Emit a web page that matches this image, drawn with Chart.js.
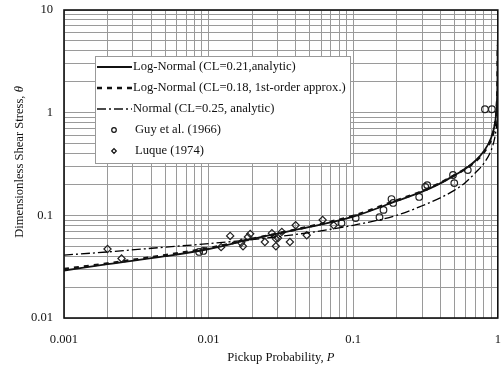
<!DOCTYPE html>
<html>
<head>
<meta charset="utf-8">
<script src="https://cdn.jsdelivr.net/npm/chart.js@4.4.0/dist/chart.umd.min.js"></script>
<style>
  html, body { margin: 0; padding: 0; background: #fff; }
</style>
</head>
<body>
<canvas id="pickupChart" width="503" height="371"></canvas>
<script>
// Courbes : contrainte adimensionnelle en fonction de la probabilite d'arrachement
const pCurve = [0.001, 0.002, 0.005, 0.01, 0.02, 0.05, 0.1, 0.2, 0.3, 0.4, 0.5, 0.6, 0.7, 0.8, 0.9, 0.95, 0.97, 0.98, 0.99, 0.995, 0.999];
const thetaLogNormal = [0.029, 0.0335, 0.040, 0.047, 0.059, 0.077, 0.097, 0.138, 0.17, 0.205, 0.245, 0.285, 0.34, 0.42, 0.57, 0.75, 0.92, 1.1, 1.5, 2.2, 5.0];
const thetaLogNormal1st = [0.030, 0.034, 0.041, 0.048, 0.059, 0.078, 0.099, 0.14, 0.172, 0.207, 0.245, 0.285, 0.335, 0.41, 0.55, 0.72, 0.88, 1.05, 1.4, 2.0, 4.5];
const thetaNormal = [0.041, 0.044, 0.049, 0.053, 0.058, 0.068, 0.080, 0.100, 0.124, 0.148, 0.175, 0.21, 0.26, 0.32, 0.43, 0.56, 0.66, 0.74, 0.86, 0.98, 1.3];

// Mesures
const guyP = [0.0086, 0.0092, 0.083, 0.104, 0.152, 0.162, 0.184, 0.189, 0.286, 0.315, 0.325, 0.49, 0.50, 0.62, 0.815, 0.91];
const guyTheta = [0.044, 0.045, 0.084, 0.094, 0.096, 0.113, 0.144, 0.132, 0.151, 0.189, 0.197, 0.247, 0.206, 0.276, 1.08, 1.08];
const luqueP = [0.0020, 0.0025, 0.0122, 0.0141, 0.0168, 0.0173, 0.0187, 0.0194, 0.0245, 0.0274, 0.0292, 0.0292, 0.0302, 0.0321, 0.0365, 0.040, 0.0477, 0.0615, 0.0733];
const luqueTheta = [0.047, 0.038, 0.049, 0.063, 0.054, 0.050, 0.0615, 0.066, 0.055, 0.067, 0.059, 0.050, 0.060, 0.069, 0.055, 0.080, 0.064, 0.090, 0.080];

const xTickLabels = ["0.001", "0.01", "0.1", "1"];
const yTickLabels = ["0.01", "0.1", "1", "10"];
const seriesLabels = [
  "Log-Normal (CL=0.21,analytic)",
  "Log-Normal (CL=0.18, 1st-order approx.)",
  "Normal (CL=0.25, analytic)",
  "Guy et al. (1966)",
  "Luque (1974)",
];

const FONT = "Liberation Serif, Times New Roman, serif";
const TEXT_SIZE = 12.6;

function toPoints(xs, ys) {
  return xs.map((x, i) => ({ x: x, y: ys[i] }));
}

// grille log : 1..9 par decade
function logTicks(min, max) {
  const ticks = [];
  for (let e = Math.round(Math.log10(min)); e < Math.round(Math.log10(max)); e++) {
    for (let m = 1; m <= 9; m++) {
      ticks.push({ value: parseFloat((m * Math.pow(10, e)).toPrecision(3)) });
    }
  }
  ticks.push({ value: max });
  return ticks;
}

const frameAndText = {
  id: "frameAndText",
  afterDraw(chart) {
    const ctx = chart.ctx;
    const a = chart.chartArea;
    const f = TEXT_SIZE + "px " + FONT;
    const fi = "italic " + TEXT_SIZE + "px " + FONT;
    ctx.save();

    // cadre
    ctx.strokeStyle = "#111";
    ctx.lineWidth = 1.6;
    ctx.strokeRect(a.left, a.top, a.right - a.left, a.bottom - a.top);

    // legende
    const bx = 95, by = 56, bw = 255, bh = 107;
    ctx.fillStyle = "#fff";
    ctx.fillRect(bx, by, bw, bh);
    ctx.strokeStyle = "#999";
    ctx.lineWidth = 1;
    ctx.strokeRect(bx + 0.5, by + 0.5, bw, bh);

    ctx.font = f;
    ctx.textBaseline = "middle";
    chart.data.datasets.forEach((ds, i) => {
      const y = 67 + i * 21;
      ctx.strokeStyle = "#111";
      ctx.fillStyle = "#111";
      if (ds.showLine) {
        ctx.save();
        ctx.lineWidth = ds.borderWidth;
        ctx.setLineDash(ds.borderDash || []);
        ctx.beginPath();
        ctx.moveTo(97, y);
        ctx.lineTo(132, y);
        ctx.stroke();
        ctx.restore();
        ctx.fillText(ds.label, 133, y);
      } else {
        ctx.save();
        ctx.fillStyle = "#fff";
        ctx.lineWidth = 1.2;
        Chart.helpers.drawPoint(ctx, { pointStyle: ds.pointStyle, radius: 2.3, rotation: 0, borderWidth: 1.2 }, 114, y);
        ctx.restore();
        ctx.fillText(ds.label, 135, y);
      }
    });

    // titre axe x
    const t1 = "Pickup Probability, ";
    ctx.font = f;
    const w1 = ctx.measureText(t1).width;
    ctx.font = fi;
    const w2 = ctx.measureText("P").width;
    let x0 = (a.left + a.right) / 2 - (w1 + w2) / 2;
    ctx.textAlign = "left";
    ctx.font = f;
    ctx.fillText(t1, x0, 358);
    ctx.font = fi;
    ctx.fillText("P", x0 + w1, 358);

    // titre axe y
    const t2 = "Dimensionless Shear Stress, ";
    ctx.translate(20, 162);
    ctx.rotate(-Math.PI / 2);
    ctx.font = f;
    const w3 = ctx.measureText(t2).width;
    ctx.font = fi;
    const w4 = ctx.measureText("\u03b8").width;
    x0 = -(w3 + w4) / 2;
    ctx.font = f;
    ctx.fillText(t2, x0, 0);
    ctx.font = fi;
    ctx.fillText("\u03b8", x0 + w3, 0);

    ctx.restore();
  },
};

const chartData = {
  datasets: [
    {
      label: seriesLabels[0],
      data: toPoints(pCurve, thetaLogNormal),
      showLine: true,
      borderColor: "#111",
      borderWidth: 1.8,
      pointRadius: 0,
      cubicInterpolationMode: "monotone",
    },
    {
      label: seriesLabels[1],
      data: toPoints(pCurve, thetaLogNormal1st),
      showLine: true,
      borderColor: "#111",
      borderWidth: 2.4,
      borderDash: [5, 5],
      pointRadius: 0,
      cubicInterpolationMode: "monotone",
    },
    {
      label: seriesLabels[2],
      data: toPoints(pCurve, thetaNormal),
      showLine: true,
      borderColor: "#000",
      borderWidth: 1.3,
      borderDash: [9, 3, 2, 3],
      pointRadius: 0,
      cubicInterpolationMode: "monotone",
    },
    {
      label: seriesLabels[3],
      data: toPoints(guyP, guyTheta),
      showLine: false,
      pointStyle: "circle",
      pointRadius: 3.3,
      borderColor: "#222",
      borderWidth: 1.2,
      backgroundColor: "rgba(255,255,255,0)",
    },
    {
      label: seriesLabels[4],
      data: toPoints(luqueP, luqueTheta),
      showLine: false,
      pointStyle: "rectRot",
      pointRadius: 3.6,
      borderColor: "#222",
      borderWidth: 1.2,
      backgroundColor: "rgba(255,255,255,0)",
    },
  ],
};

const options = {
  responsive: false,
  maintainAspectRatio: false,
  animation: false,
  layout: { padding: { top: 10, right: 3, left: 0, bottom: 0 } },
  plugins: {
    legend: { display: false },
    tooltip: { enabled: false },
  },
  scales: {
    x: {
      type: "logarithmic",
      min: 0.001,
      max: 1,
      afterBuildTicks: (scale) => { scale.ticks = logTicks(0.001, 1); },
      afterFit: (scale) => { scale.height = 53; scale.paddingLeft = 0; scale.paddingRight = 0; },
      grid: { color: "#9a9a9a", lineWidth: 1, drawTicks: false },
      border: { display: false },
      ticks: {
        autoSkip: false,
        maxRotation: 0,
        padding: 14,
        color: "#111",
        font: { family: FONT, size: TEXT_SIZE },
        callback: (value) => (xTickLabels.includes(String(value)) ? String(value) : ""),
      },
    },
    y: {
      type: "logarithmic",
      min: 0.01,
      max: 10,
      afterBuildTicks: (scale) => { scale.ticks = logTicks(0.01, 10); },
      afterFit: (scale) => { scale.width = 64; scale.paddingTop = 0; scale.paddingBottom = 0; },
      grid: { color: "#9a9a9a", lineWidth: 1, drawTicks: false },
      border: { display: false },
      ticks: {
        autoSkip: false,
        padding: 11,
        color: "#111",
        font: { family: FONT, size: TEXT_SIZE },
        callback: (value) => (yTickLabels.includes(String(value)) ? String(value) : ""),
      },
    },
  },
};

const ctx = document.getElementById("pickupChart").getContext("2d");
const pickupChart = new Chart(ctx, {
  type: "scatter",
  data: chartData,
  options: options,
  plugins: [frameAndText],
});
</script>
</body>
</html>
